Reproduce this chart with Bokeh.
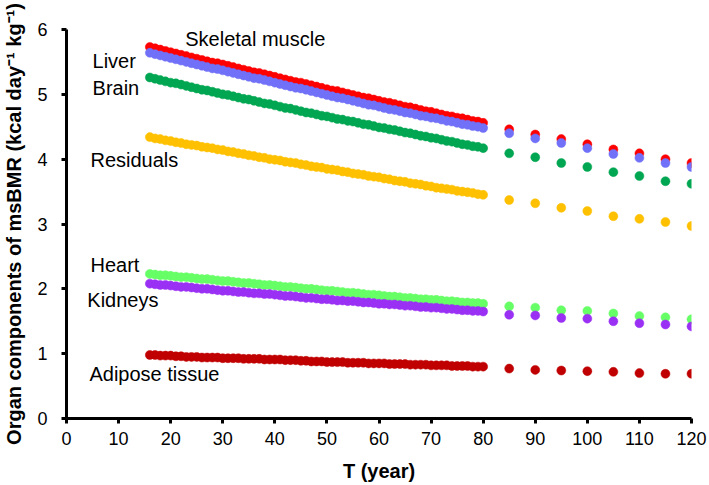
from bokeh.plotting import figure
from bokeh.models import Range1d, FixedTicker, ColumnDataSource
from bokeh.core.properties import value
from bokeh.embed import file_html
from bokeh.resources import INLINE

# ---- data ----
years_dense = list(range(16, 81))
years_sparse = [85, 90, 95, 100, 105, 110, 115, 120]

skeletal_dense = [5.73, 5.71, 5.69, 5.67, 5.65, 5.63, 5.61, 5.59, 5.57, 5.55, 5.53, 5.51, 5.49, 5.48, 5.46, 5.44,
                  5.42, 5.40, 5.38, 5.36, 5.34, 5.33, 5.31, 5.29, 5.27, 5.25, 5.23, 5.21, 5.19, 5.18, 5.16, 5.14,
                  5.12, 5.10, 5.08, 5.06, 5.05, 5.03, 5.01, 4.99, 4.97, 4.95, 4.94, 4.92, 4.90, 4.88, 4.87, 4.85,
                  4.83, 4.81, 4.80, 4.78, 4.76, 4.74, 4.73, 4.71, 4.69, 4.67, 4.66, 4.64, 4.63, 4.61, 4.59, 4.58, 4.56]
skeletal_sparse = [4.46, 4.38, 4.31, 4.23, 4.15, 4.09, 4.00, 3.94]

liver_dense = [5.64, 5.62, 5.60, 5.58, 5.56, 5.54, 5.52, 5.50, 5.48, 5.46, 5.44, 5.42, 5.40, 5.39, 5.37, 5.35,
               5.33, 5.31, 5.29, 5.27, 5.25, 5.24, 5.22, 5.20, 5.18, 5.16, 5.14, 5.12, 5.10, 5.09, 5.07, 5.05,
               5.03, 5.01, 4.99, 4.97, 4.95, 4.94, 4.92, 4.90, 4.88, 4.86, 4.84, 4.83, 4.81, 4.79, 4.77, 4.76,
               4.74, 4.72, 4.71, 4.69, 4.67, 4.66, 4.64, 4.63, 4.61, 4.59, 4.58, 4.56, 4.54, 4.53, 4.51, 4.50, 4.48]
liver_sparse = [4.40, 4.32, 4.25, 4.17, 4.08, 4.02, 3.94, 3.88]

brain_dense = [5.26, 5.24, 5.22, 5.20, 5.18, 5.17, 5.15, 5.13, 5.11, 5.09, 5.07, 5.06, 5.04, 5.02, 5.00, 4.99,
               4.97, 4.95, 4.93, 4.92, 4.90, 4.88, 4.86, 4.85, 4.83, 4.81, 4.79, 4.78, 4.76, 4.74, 4.72, 4.71,
               4.69, 4.67, 4.66, 4.64, 4.62, 4.61, 4.59, 4.58, 4.56, 4.54, 4.53, 4.51, 4.49, 4.48, 4.46, 4.45,
               4.43, 4.41, 4.40, 4.38, 4.36, 4.35, 4.33, 4.32, 4.30, 4.28, 4.27, 4.25, 4.23, 4.22, 4.20, 4.19, 4.17]
brain_sparse = [4.09, 4.03, 3.94, 3.88, 3.80, 3.74, 3.66, 3.62]

residuals_dense = [4.34, 4.32, 4.31, 4.29, 4.28, 4.26, 4.25, 4.23, 4.22, 4.21, 4.19, 4.18, 4.17, 4.15, 4.14, 4.12,
                   4.11, 4.09, 4.08, 4.06, 4.05, 4.03, 4.02, 4.00, 3.99, 3.98, 3.96, 3.95, 3.94, 3.92, 3.91, 3.89,
                   3.88, 3.87, 3.85, 3.84, 3.83, 3.81, 3.80, 3.78, 3.77, 3.76, 3.74, 3.73, 3.72, 3.70, 3.69, 3.67,
                   3.66, 3.65, 3.63, 3.62, 3.61, 3.59, 3.58, 3.56, 3.55, 3.54, 3.53, 3.51, 3.50, 3.49, 3.48, 3.46, 3.45]
residuals_sparse = [3.37, 3.32, 3.25, 3.20, 3.12, 3.08, 3.03, 2.97]

heart_dense = [2.23, 2.22, 2.21, 2.21, 2.20, 2.19, 2.18, 2.18, 2.17, 2.16, 2.15, 2.15, 2.14, 2.13, 2.12, 2.12,
               2.11, 2.10, 2.09, 2.09, 2.08, 2.07, 2.06, 2.06, 2.05, 2.04, 2.03, 2.03, 2.02, 2.01, 2.00, 2.00,
               1.99, 1.98, 1.97, 1.97, 1.96, 1.95, 1.94, 1.94, 1.93, 1.92, 1.91, 1.91, 1.90, 1.89, 1.88, 1.88,
               1.87, 1.86, 1.86, 1.85, 1.84, 1.84, 1.83, 1.83, 1.82, 1.81, 1.81, 1.80, 1.79, 1.79, 1.78, 1.78, 1.77]
heart_sparse = [1.73, 1.71, 1.67, 1.66, 1.62, 1.58, 1.56, 1.53]

kidneys_dense = [2.08, 2.07, 2.06, 2.06, 2.05, 2.04, 2.03, 2.03, 2.02, 2.01, 2.00, 2.00, 1.99, 1.98, 1.97, 1.97,
                 1.96, 1.95, 1.95, 1.94, 1.93, 1.93, 1.92, 1.92, 1.91, 1.90, 1.89, 1.89, 1.88, 1.87, 1.86, 1.86,
                 1.85, 1.84, 1.84, 1.83, 1.82, 1.82, 1.81, 1.81, 1.80, 1.79, 1.79, 1.78, 1.77, 1.77, 1.76, 1.76,
                 1.75, 1.74, 1.74, 1.73, 1.72, 1.72, 1.71, 1.71, 1.70, 1.69, 1.69, 1.68, 1.67, 1.67, 1.66, 1.66, 1.65]
kidneys_sparse = [1.60, 1.59, 1.55, 1.54, 1.50, 1.47, 1.45, 1.42]

adipose_dense = [0.98, 0.98, 0.97, 0.97, 0.97, 0.96, 0.96, 0.95, 0.95, 0.95, 0.94, 0.94, 0.94, 0.94, 0.93, 0.93,
                 0.93, 0.93, 0.92, 0.92, 0.92, 0.92, 0.91, 0.91, 0.91, 0.91, 0.90, 0.90, 0.90, 0.89, 0.89, 0.88,
                 0.88, 0.88, 0.87, 0.87, 0.87, 0.87, 0.86, 0.86, 0.86, 0.86, 0.85, 0.85, 0.85, 0.85, 0.84, 0.84,
                 0.84, 0.84, 0.83, 0.83, 0.83, 0.83, 0.82, 0.82, 0.82, 0.82, 0.81, 0.81, 0.81, 0.81, 0.80, 0.80, 0.80]
adipose_sparse = [0.77, 0.75, 0.74, 0.73, 0.72, 0.70, 0.69, 0.69]

organ_names = ["Skeletal muscle", "Liver", "Brain", "Residuals", "Heart", "Kidneys", "Adipose tissue"]
x_ticks = [0, 10, 20, 30, 40, 50, 60, 70, 80, 90, 100, 110, 120]
y_ticks = [0, 1, 2, 3, 4, 5, 6]
x_title = "T (year)"
y_title = "Organ components of msBMR (kcal day\u207b\u00b9 kg\u207b\u00b9)"

# ---- styles / label placement ----
colors = ["#FF0000", "#7070F8", "#00A651", "#FFC000", "#66FF66", "#9B30F5", "#C00000"]
label_x = [22.8, 5.0, 5.0, 4.6, 4.6, 4.0, 4.4]
label_y = [5.86, 5.52, 5.10, 3.98, 2.36, 1.83, 0.69]

series = [
    (skeletal_dense, skeletal_sparse),
    (liver_dense, liver_sparse),
    (brain_dense, brain_sparse),
    (residuals_dense, residuals_sparse),
    (heart_dense, heart_sparse),
    (kidneys_dense, kidneys_sparse),
    (adipose_dense, adipose_sparse),
]

FONT = "Liberation Sans"

p = figure(width=709, height=485, output_backend="svg", toolbar_location=None,
           x_range=Range1d(0, 120), y_range=Range1d(0, 6),
           min_border_left=64, min_border_top=29, min_border_right=18, min_border_bottom=67)
p.outline_line_color = None
p.xgrid.visible = False
p.ygrid.visible = False
p.background_fill_color = "white"
p.border_fill_color = "white"

for (dense, sparse), col in zip(series, colors):
    p.scatter(years_dense, dense, size=9, color=col, line_color=col, line_width=0.5)
    p.scatter(years_sparse, sparse, size=9, color=col, line_color=col, line_width=0.5)

src = ColumnDataSource(dict(x=label_x, y=label_y, t=organ_names))
p.text(x="x", y="y", text="t", source=src, text_font=value(FONT), text_font_size="20px",
       text_baseline="middle", text_align="left", text_color="black")

for ax in (p.xaxis[0], p.yaxis[0]):
    ax.axis_line_width = 3
    ax.axis_line_color = "black"
    ax.major_tick_line_width = 3
    ax.major_tick_line_color = "black"
    ax.major_tick_out = 5
    ax.major_tick_in = 0
    ax.minor_tick_line_color = None
    ax.major_label_text_font = FONT
    ax.major_label_text_font_size = "18px"
    ax.major_label_text_color = "black"
    ax.axis_label_text_font = FONT
    ax.axis_label_text_font_size = "20px"
    ax.axis_label_text_font_style = "bold"
    ax.axis_label_text_color = "black"

p.xaxis[0].ticker = FixedTicker(ticks=x_ticks)
p.yaxis[0].ticker = FixedTicker(ticks=y_ticks)
p.xaxis[0].axis_label = x_title
p.yaxis[0].axis_label = y_title
p.xaxis[0].major_label_standoff = 8
p.xaxis[0].axis_label_standoff = 12
p.yaxis[0].major_label_standoff = 14
p.yaxis[0].axis_label_standoff = 9

open("out.html", "w").write(file_html(p, INLINE))
